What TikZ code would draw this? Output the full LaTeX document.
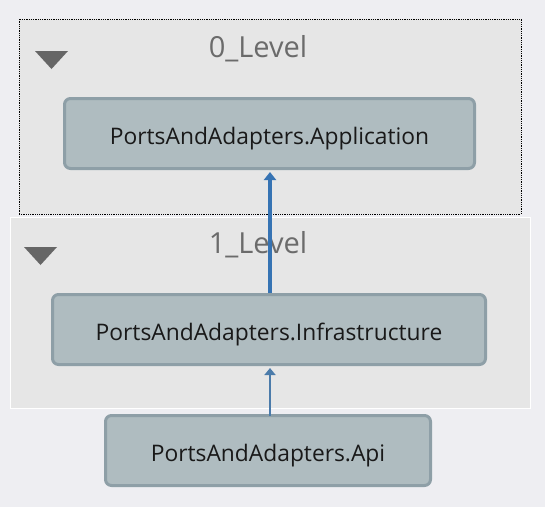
\documentclass[tikz,border=0pt]{standalone}
\usepackage{fontspec}
\setmainfont{Open Sans}
\usetikzlibrary{arrows.meta}
\definecolor{bgc}{HTML}{EEEEF2}
\definecolor{grpfill}{HTML}{E6E6E6}
\definecolor{nodefill}{HTML}{AFBCC0}
\definecolor{nodeedge}{HTML}{8E9FA7}
\definecolor{lbl}{HTML}{6B6B6B}
\definecolor{tri}{HTML}{666666}
\definecolor{arrowc}{HTML}{3673B3}
\definecolor{arrowthin}{HTML}{4B7BAA}
\tikzset{
  modbox/.style={draw=nodeedge, fill=nodefill, line width=3pt, rounded corners=6pt,
    minimum height=70pt, inner sep=0pt, text height=21pt, text depth=0pt,
    text=black!90, font=\fontsize{22.8}{26}\selectfont},
  grp/.style={fill=grpfill, inner sep=0pt},
  grplabel/.style={anchor=base, text=lbl, font=\fontsize{29}{34}\selectfont, inner sep=0pt},
  collapse/.style={fill=tri, draw=none},
}
\begin{document}
\begin{tikzpicture}[x=1pt,y=-1pt]
\fill[bgc] (0,0) rectangle (545,507);
\useasboundingbox (0,0) rectangle (545,507);
% groups
\node[grp, draw=black, densely dotted, line width=0.8pt, minimum width=502pt, minimum height=195pt] (g0) at (270,116.5) {};
\node[grp, draw=white, line width=1pt, minimum width=520pt, minimum height=191pt] (g1) at (270,312.5) {};
\node[grplabel] (l0) at (258,57) {0\_Level};
\node[grplabel] (l1) at (258,253) {1\_Level};
\fill[collapse] (35,51) -- (68,51) -- (51.5,69) -- cycle;
\fill[collapse] (24,247) -- (57,247) -- (40.5,265) -- cycle;
% modules
\node[modbox, minimum width=410pt] (app) at (269.5,133.5) {PortsAndAdapters.Application};
\node[modbox, minimum width=433pt] (infra) at (269,329.5) {PortsAndAdapters.Infrastructure};
\node[modbox, minimum width=325pt] (api) at (268,450.5) {PortsAndAdapters.Api};
% dependencies
\coordinate (infratop) at ([xshift=1pt]infra.north);
\coordinate (infrabot) at ([xshift=1pt, yshift=-1.5pt]infra.south);
\draw[arrowc, line width=4pt, -{Triangle[width=12pt,length=8pt]}, shorten >=0.5pt]
  (infratop) -- ([yshift=-1.5pt]app.south -| infratop);
\draw[arrowthin, line width=1.8pt, -{Triangle[width=11pt,length=7pt]}, shorten >=0.5pt]
  ([yshift=-1.5pt]api.north -| infrabot) -- (infrabot);
\end{tikzpicture}
\end{document}
